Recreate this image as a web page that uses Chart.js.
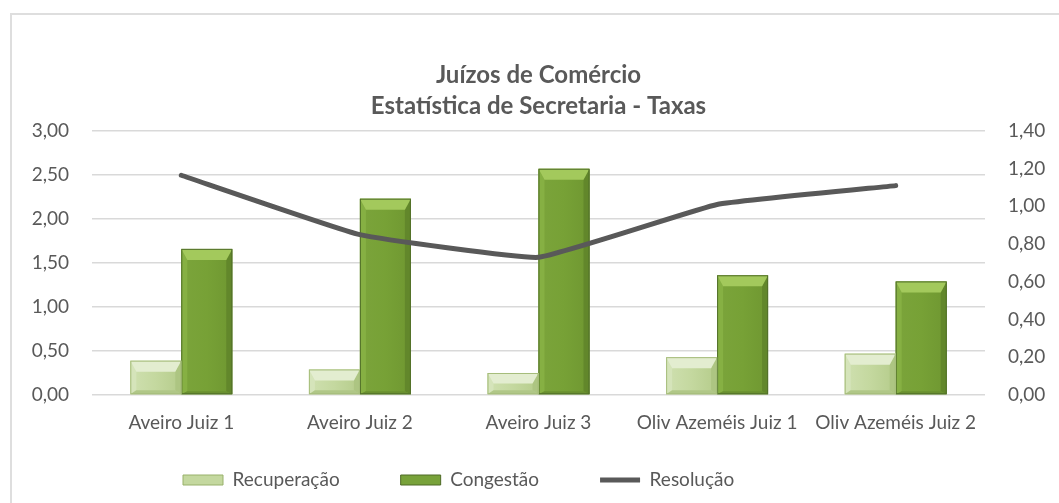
<!DOCTYPE html>
<html>
<head>
<meta charset="utf-8">
<script src="https://cdn.jsdelivr.net/npm/chart.js@4.4.1/dist/chart.umd.min.js"></script>
<style>
  html, body { margin: 0; padding: 0; background: #ffffff; overflow: hidden; }
  #frame { position: absolute; left: 10px; top: 13px; width: 1200px; height: 700px; border: 2px solid #dedede; box-sizing: border-box; }
  #wrap { position: absolute; left: 0; top: 0; width: 1059px; height: 503px; }
</style>
</head>
<body>
<div id="frame"></div>
<div id="wrap"><canvas id="c" width="1059" height="503"></canvas></div>
<script>
// ---- data ----
const categories = ['Aveiro Juiz 1', 'Aveiro Juiz 2', 'Aveiro Juiz 3', 'Oliv Azeméis Juiz 1', 'Oliv Azeméis Juiz 2'];
const recuperacao = [0.39, 0.29, 0.25, 0.43, 0.47];
const congestao = [1.66, 2.23, 2.57, 1.36, 1.29];
const resolucao = [1.165, 0.85, 0.73, 1.01, 1.11];
const leftTickLabels = ['0,00', '0,50', '1,00', '1,50', '2,00', '2,50', '3,00'];
const rightTickLabels = ['0,00', '0,20', '0,40', '0,60', '0,80', '1,00', '1,20', '1,40'];
const titleLines = ['Juízos de Comércio', 'Estatística de Secretaria - Taxas'];
const seriesNames = ['Recuperação', 'Congestão', 'Resolução'];

const FONT = 'Lato, "Open Sans", sans-serif';
const TXT = '#595959';
const FS = 19;

const bevelPlugin = {
  id: 'bevel',
  afterDatasetDraw(chart, args) {
    const ds = chart.data.datasets[args.index];
    if (!ds.bevel) return;
    const c = ds.bevel;
    const ctx = chart.ctx;
    const poly = (pts, col) => {
      ctx.beginPath();
      ctx.moveTo(pts[0][0], pts[0][1]);
      for (let i = 1; i < pts.length; i++) ctx.lineTo(pts[i][0], pts[i][1]);
      ctx.closePath();
      ctx.fillStyle = col;
      ctx.fill();
    };
    args.meta.data.forEach(el => {
      const p = el.getProps(['x', 'y', 'base', 'width'], true);
      const l = p.x - p.width / 2, r = p.x + p.width / 2;
      const t = Math.min(p.y, p.base), b = Math.max(p.y, p.base);
      const h = b - t, w = p.width;
      const s = Math.min(c.size, h / 2, w / 2);
      const st = Math.min(c.top, h / 2);
      const sb = Math.min(c.bot, h / 2);
      ctx.save();
      const g = ctx.createLinearGradient(l, 0, r, 0);
      g.addColorStop(0, c.faceL);
      g.addColorStop(0.5, c.faceM);
      g.addColorStop(1, c.faceR);
      ctx.fillStyle = g;
      ctx.fillRect(l, t, w, h);
      poly([[l, t], [l + s, t + st], [l + s, b - sb], [l, b]], c.left);
      poly([[r, t], [r, b], [r - s, b - sb], [r - s, t + st]], c.right);
      poly([[l, b], [l + s, b - sb], [r - s, b - sb], [r, b]], c.bottom);
      poly([[l, t], [r, t], [r - s, t + st], [l + s, t + st]], c.topCol);
      ctx.strokeStyle = c.edge;
      ctx.lineWidth = 1;
      ctx.strokeRect(l + 0.5, t + 0.5, w - 1, h - 1);
      ctx.restore();
    });
  }
};

const legendShift = {
  id: 'legendShift',
  afterLayout(chart) {
    const lg = chart.legend;
    if (!lg) return;
    const pad = lg.options.labels.padding;
    const dx = 183 - (lg.left + pad);
    lg.left += dx; lg.right += dx;
    lg.top = 480 - FS / 2 - pad;
    lg.bottom = chart.height;
  }
};

new Chart(document.getElementById('c'), {
  type: 'bar',
  data: {
    labels: categories,
    datasets: [
      {
        label: seriesNames[0], data: recuperacao, yAxisID: 'y', order: 1,
        backgroundColor: '#c4d89f', borderColor: '#98b16b', borderWidth: 1,
        pointStyle: 'rect',
        barPercentage: 1, categoryPercentage: 0.571,
        bevel: { size: 6, top: 11, bot: 4, faceL: '#cfe0b0', faceM: '#c4d89f', faceR: '#b5cc8b', topCol: '#e3edd0', left: '#d5e4ba', right: '#adc582', bottom: '#b0c787', edge: '#a6bd7b' }
      },
      {
        label: seriesNames[1], data: congestao, yAxisID: 'y', order: 1,
        backgroundColor: '#78a23a', borderColor: '#4f6a26', borderWidth: 1,
        pointStyle: 'rect',
        barPercentage: 1, categoryPercentage: 0.571,
        bevel: { size: 6, top: 11, bot: 3, faceL: '#7ba43b', faceM: '#77a136', faceR: '#6f9731', topCol: '#a3c95c', left: '#86b043', right: '#62872b', bottom: '#6a9030', edge: '#52702a' }
      },
      {
        type: 'line', label: seriesNames[2], data: resolucao, yAxisID: 'y1', order: 0,
        borderColor: '#595959', backgroundColor: '#595959', borderWidth: 5,
        borderCapStyle: 'round', borderJoinStyle: 'round',
        pointRadius: 0, pointHoverRadius: 0, pointStyle: 'line',
        tension: 0.1, fill: false
      }
    ]
  },
  options: {
    responsive: false,
    animation: false,
    devicePixelRatio: 1,
    layout: { padding: { left: 0, right: 0, top: 0, bottom: 0 } },
    plugins: {
      tooltip: { enabled: false },
      title: {
        display: true, text: titleLines, color: TXT, fullSize: false,
        font: { family: FONT, size: 24, weight: 'bold', lineHeight: 1.29 },
        padding: { top: 59.5, bottom: 9.5 }
      },
      legend: {
        position: 'bottom', align: 'start', maxHeight: 50,
        labels: {
          color: TXT, font: { family: FONT, size: FS },
          usePointStyle: true, pointStyleWidth: 40, boxHeight: 10,
          padding: 61,
          sort: (a, b) => a.datasetIndex - b.datasetIndex
        }
      }
    },
    scales: {
      x: {
        grid: { display: false, drawTicks: false },
        border: { display: false },
        ticks: { color: TXT, font: { family: FONT, size: FS }, padding: 16, maxRotation: 0, autoSkip: false },
        afterFit: s => { s.height = 58; }
      },
      y: {
        position: 'left', min: 0, max: 3,
        grid: { color: '#d9d9d9', lineWidth: 1.5, drawTicks: false },
        border: { display: false },
        ticks: { stepSize: 0.5, color: TXT, font: { family: FONT, size: FS }, padding: 23,
          callback: (v, i) => leftTickLabels[i] },
        afterFit: s => { s.width = 92; }
      },
      y1: {
        position: 'right', min: 0, max: 1.4,
        grid: { display: false, drawTicks: false },
        border: { display: false },
        ticks: { stepSize: 0.2, color: TXT, font: { family: FONT, size: FS }, padding: 23,
          callback: (v, i) => rightTickLabels[i] },
        afterFit: s => { s.width = 74; }
      }
    }
  },
  plugins: [bevelPlugin, legendShift]
});
</script>
</body>
</html>
